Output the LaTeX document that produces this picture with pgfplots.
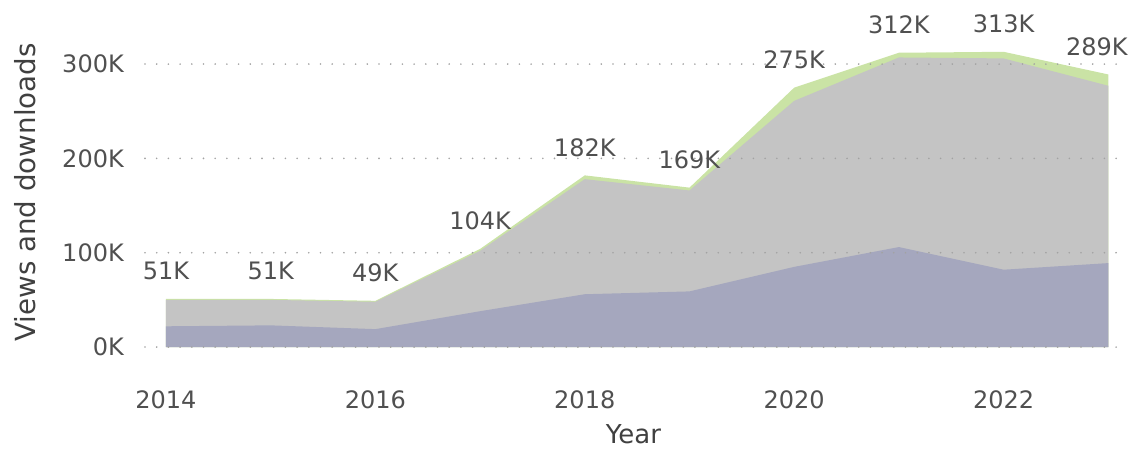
\documentclass[border=0pt]{standalone}
\usepackage{fontspec}
\setmainfont{DejaVu Sans}
\usepackage{pgfplots}
\usepackage{pgfplotstable}
\pgfplotsset{compat=1.18}
\definecolor{cP}{HTML}{A5A7BE}
\definecolor{cG}{HTML}{C4C4C4}
\definecolor{cT}{HTML}{CAE3A5}
\definecolor{txt}{HTML}{505050}
\definecolor{ttl}{HTML}{404040}
\definecolor{grd}{HTML}{A2A2A2}
\tikzset{datalab/.style={font=\fontsize{24}{28}\selectfont, text=txt, anchor=base, inner sep=0pt, yshift=19pt}}

\pgfplotstableread{
year p pg t lab
2014 22 50 51 51K
2015 23 50 51 51K
2016 19 48 49 49K
2017 38 102 104 104K
2018 56 178 182 182K
2019 59 166 169 169K
2020 85 261 275 275K
2021 106 307 312 312K
2022 82 306 313 313K
2023 89 277 289 289K
}\data

\pgfplotstableread{
year t lab
2014 51 51K
2015 51 51K
2016 49 49K
2017 104 104K
2018 182 182K
2019 169 169K
2020 275 275K
2021 312 312K
2022 313 313K
}\labA

\pgfplotstableread{
year t lab
2023 289 289K
}\labB

\begin{document}
\begin{tikzpicture}
\path[use as bounding box] (-145pt,-88.8pt) rectangle (989pt,361.2pt);
\begin{axis}[
  at={(0pt,0pt)}, anchor=south west,
  scale only axis, width=979pt, height=316pt,
  xmin=2013.8, xmax=2023.15, ymin=-15, ymax=320,
  axis line style={draw=none},
  major tick style={draw=none},
  xtick={2014,2016,2018,2020,2022},
  xticklabels={2014,2016,2018,2020,2022},
  ytick={0,100,200,300},
  yticklabels={0K,100K,200K,300K},
  ymajorgrids,
  axis on top,
  grid style={grd, line width=1.8pt, line cap=round, dash pattern=on 0pt off 11.7pt},
  xticklabel style={font=\fontsize{24}{28}\selectfont, text=txt, anchor=base, yshift=-46.8pt},
  yticklabel style={font=\fontsize{24}{28}\selectfont, text=txt, anchor=east, inner sep=0pt, xshift=-21pt},
  xlabel={Year},
  ylabel={Views and downloads},
  xlabel style={font=\fontsize{26}{31}\selectfont, text=ttl, at={(axis description cs:0.499,-0.2589)}, anchor=base},
  ylabel style={font=\fontsize{27.7}{33}\selectfont, text=ttl, at={(axis description cs:-0.1118,0.534)}, anchor=base},
  clip=false,
]
\addplot[fill=cT, draw=none] table[x=year, y=t] {\data} \closedcycle;
\addplot[fill=cG, draw=none] table[x=year, y=pg] {\data} \closedcycle;
\addplot[fill=cP, draw=none] table[x=year, y=p] {\data} \closedcycle;
\addplot[draw=none, mark=none, nodes near coords, point meta=explicit symbolic,
  every node near coord/.style={datalab}]
  table[x=year, y=t, meta=lab] {\labA};
\addplot[draw=none, mark=none, nodes near coords, point meta=explicit symbolic,
  every node near coord/.style={datalab, xshift=-11.5pt}]
  table[x=year, y=t, meta=lab] {\labB};
\end{axis}
\end{tikzpicture}
\end{document}
